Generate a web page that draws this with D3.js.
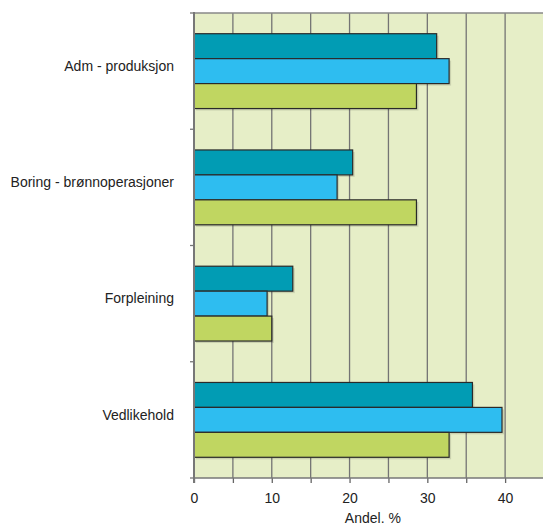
<!DOCTYPE html>
<html>
<head>
<meta charset="utf-8">
<script src="https://cdn.jsdelivr.net/npm/d3@7"></script>
<style>
  body { margin: 0; background: #fff; }
  text { font-family: "Liberation Sans", Arial, sans-serif; fill: #222; }
</style>
</head>
<body>
<div id="chart"></div>
<script>
// data
const categories = ["Adm - produksjon", "Boring - brønnoperasjoner", "Forpleining", "Vedlikehold"];
const seriesNames = ["s1", "s2", "s3"];
const series1 = [31.2, 20.4, 12.7, 35.8];
const series2 = [32.8, 18.4, 9.4, 39.6];
const series3 = [28.6, 28.6, 10.0, 32.8];
const xTicks = [0, 10, 20, 30, 40];
const xLabel = "Andel. %";

const colors = ["#019cb4", "#2ebdf0", "#c0d661"];

const width = 543, height = 526;
const margin = {top: 13, right: -1, bottom: 48, left: 194};

let svg = d3.select("#chart").append("svg").attr("width", width).attr("height", height);

let xScale = d3.scaleLinear().domain([0, 45]).range([margin.left, width - margin.right]);
let yScale = d3.scaleBand().domain(categories).range([margin.top, height - margin.bottom]);
let inner = d3.scaleBand().domain(seriesNames).range([0, yScale.bandwidth()]).paddingOuter(0.83);

// background
svg.append("rect")
    .attr("x", margin.left).attr("y", margin.top)
    .attr("width", width - margin.left).attr("height", height - margin.top - margin.bottom)
    .attr("fill", "#e6eec7");

// gridlines every 5
let grid = d3.range(5, 45, 5);
svg.append("g").selectAll("line").data(grid).enter().append("line")
    .attr("x1", d => xScale(d)).attr("x2", d => xScale(d))
    .attr("y1", margin.top).attr("y2", height - margin.bottom)
    .attr("stroke", "#747474").attr("stroke-width", 1.3);

// top border
svg.append("line")
    .attr("x1", margin.left).attr("x2", width)
    .attr("y1", margin.top).attr("y2", margin.top)
    .attr("stroke", "#888").attr("stroke-width", 1.5);

// bars
let rows = categories.map((c, i) => ({cat: c, vals: [series1[i], series2[i], series3[i]]}));
let groups = svg.append("g").selectAll("g").data(rows).enter().append("g")
    .attr("transform", d => "translate(0," + yScale(d.cat) + ")");

groups.selectAll("rect.shadow").data(d => d.vals.map((v, j) => ({v: v, s: seriesNames[j], j: j}))).enter()
    .append("rect").attr("class", "shadow")
    .attr("x", xScale(0) + 2)
    .attr("y", d => inner(d.s) + 2)
    .attr("width", d => xScale(d.v) - xScale(0))
    .attr("height", inner.bandwidth())
    .attr("fill", "#000").attr("opacity", 0.12);

groups.selectAll("rect.bar").data(d => d.vals.map((v, j) => ({v: v, s: seriesNames[j], j: j}))).enter()
    .append("rect").attr("class", "bar")
    .attr("x", xScale(0))
    .attr("y", d => inner(d.s))
    .attr("width", d => xScale(d.v) - xScale(0))
    .attr("height", inner.bandwidth())
    .attr("fill", d => colors[d.j])
    .attr("stroke", "#2a2a2a").attr("stroke-width", 1.2);

// x axis
let xAxis = d3.axisBottom(xScale).tickValues(d3.range(0, 45, 5)).tickSize(5)
    .tickFormat(d => xTicks.includes(d) ? d : "");
let gx = svg.append("g").attr("transform", "translate(0," + (height - margin.bottom) + ")").call(xAxis);
gx.select(".domain").remove();
gx.selectAll(".tick line").attr("stroke", "#666").attr("stroke-width", 1.3);
gx.selectAll(".tick text").attr("font-size", "14px").attr("dy", "1.2em").attr("fill", "#222");

svg.append("line")
    .attr("x1", margin.left).attr("x2", width)
    .attr("y1", height - margin.bottom).attr("y2", height - margin.bottom)
    .attr("stroke", "#777").attr("stroke-width", 1.5);

// y axis line + ticks at category boundaries
svg.append("line")
    .attr("x1", margin.left).attr("x2", margin.left)
    .attr("y1", margin.top - 1).attr("y2", height - margin.bottom + 5)
    .attr("stroke", "#777").attr("stroke-width", 2);
let bounds = categories.map(c => yScale(c)).concat([height - margin.bottom]);
svg.append("g").selectAll("line").data(bounds).enter().append("line")
    .attr("x1", margin.left - 4).attr("x2", margin.left)
    .attr("y1", d => d).attr("y2", d => d)
    .attr("stroke", "#777").attr("stroke-width", 1.3);

// category labels
svg.append("g").selectAll("text").data(categories).enter().append("text")
    .attr("x", margin.left - 20)
    .attr("y", d => yScale(d) + yScale.bandwidth() / 2 - 4)
    .attr("text-anchor", "end")
    .attr("dominant-baseline", "middle")
    .attr("font-size", "14px")
    .text(d => d);

// x label
svg.append("text")
    .attr("x", xScale(23)).attr("y", height - 3)
    .attr("text-anchor", "middle")
    .attr("font-size", "14px")
    .text(xLabel);
</script>
</body>
</html>
